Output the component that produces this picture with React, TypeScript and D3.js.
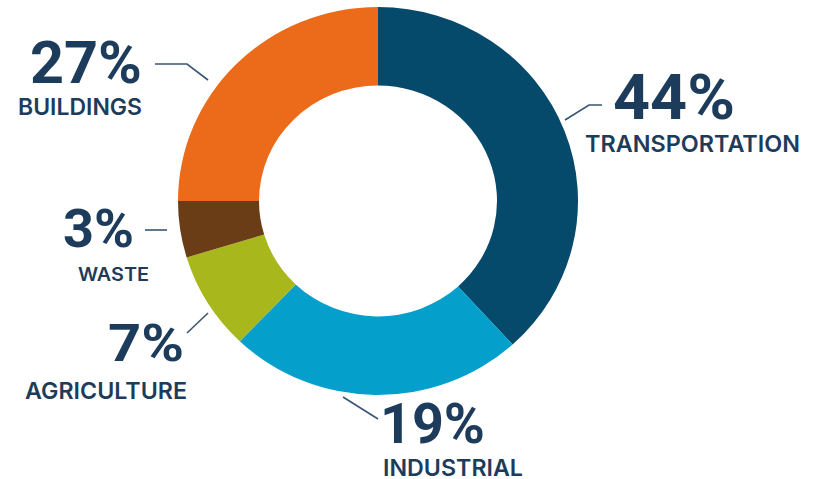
import React from "react";
import * as d3 from "d3";

// Categories in clockwise order starting from 12 o'clock
const categories = ["TRANSPORTATION", "INDUSTRIAL", "AGRICULTURE", "WASTE", "BUILDINGS"];
// Printed shares
const shareLabels = ["44%", "19%", "7%", "3%", "27%"];
// Arc sizes as drawn in the picture (percent of full circle)
const sliceValues = [38.25, 23.9, 8.15, 4.7, 25.0];
const colors = ["#05496b", "#04a0cb", "#a8b81c", "#6a3d17", "#ec6b1a"];

const W = 814;
const H = 479;
const CX = 378;
const CY = 201;
const R_OUT = 200;
const R_IN = 119;
const TEXT = "#1d3c5b";
const LINE = "#3a5570";

// annotation layout (per category)
const labelLayout: Record<string, any> = {
  TRANSPORTATION: { anchor: "start", px: 613, py: 119, ps: 63, pw: 122, nx: 585, ny: 152, ns: 23, nw: 215, leader: [[565, 120], [589, 105], [602, 105]] },
  INDUSTRIAL: { anchor: "start", px: 380, py: 443, ps: 56, pw: 105, nx: 383, ny: 475.5, ns: 23, nw: 140, leader: [[343, 397], [378, 419]] },
  AGRICULTURE: { anchor: "end", px: 184, py: 361, ps: 52, pw: 76, nx: 187, ny: 399, ns: 23, nw: 162, leader: [[187, 333], [208, 313]] },
  WASTE: { anchor: "end", px: 134, py: 247, ps: 53, pw: 71, nx: 149, ny: 281, ns: 18.5, nw: 71, leader: [[145, 230], [167, 230]] },
  BUILDINGS: { anchor: "end", px: 142, py: 83, ps: 60, pw: 112, nx: 142, ny: 115, ns: 23, nw: 124, leader: [[155, 64], [187, 64], [208, 80]] },
};

export default function App() {
  const pie = d3
    .pie<number>()
    .sort(null)
    .value((d) => d)
    .startAngle(0)
    .endAngle(2 * Math.PI);
  const arcs = pie(sliceValues);
  const arcGen = d3.arc<d3.PieArcDatum<number>>().innerRadius(R_IN).outerRadius(R_OUT);
  const lineGen = d3.line();

  return (
    <svg
      width={W}
      height={H}
      viewBox={`0 0 ${W} ${H}`}
      style={{ position: "absolute", left: 0, top: 0, background: "#ffffff" }}
    >
      <rect width={W} height={H} fill="#ffffff" />
      <g transform={`translate(${CX},${CY}) scale(1,0.97)`}>
        {arcs.map((a, i) => (
          <path key={i} d={arcGen(a) || ""} fill={colors[i]} />
        ))}
      </g>
      {categories.map((c, i) => {
        const L = labelLayout[c];
        return (
          <g key={c}>
            <path d={lineGen(L.leader) || ""} fill="none" stroke={LINE} strokeWidth={1.6} />
            <text
              x={L.px}
              y={L.py}
              textAnchor={L.anchor}
              fontFamily="Roboto, 'Open Sans', sans-serif"
              fontWeight={700}
              fontSize={L.ps}
              fill={TEXT}
              textLength={L.pw}
              lengthAdjust="spacingAndGlyphs"
            >
              {shareLabels[i]}
            </text>
            <text
              x={L.nx}
              y={L.ny}
              textAnchor={L.anchor}
              fontFamily="Inter, Roboto, sans-serif"
              fontWeight={600}
              fontSize={L.ns}
              fill={TEXT}
              textLength={L.nw}
              lengthAdjust="spacingAndGlyphs"
            >
              {c}
            </text>
          </g>
        );
      })}
    </svg>
  );
}
